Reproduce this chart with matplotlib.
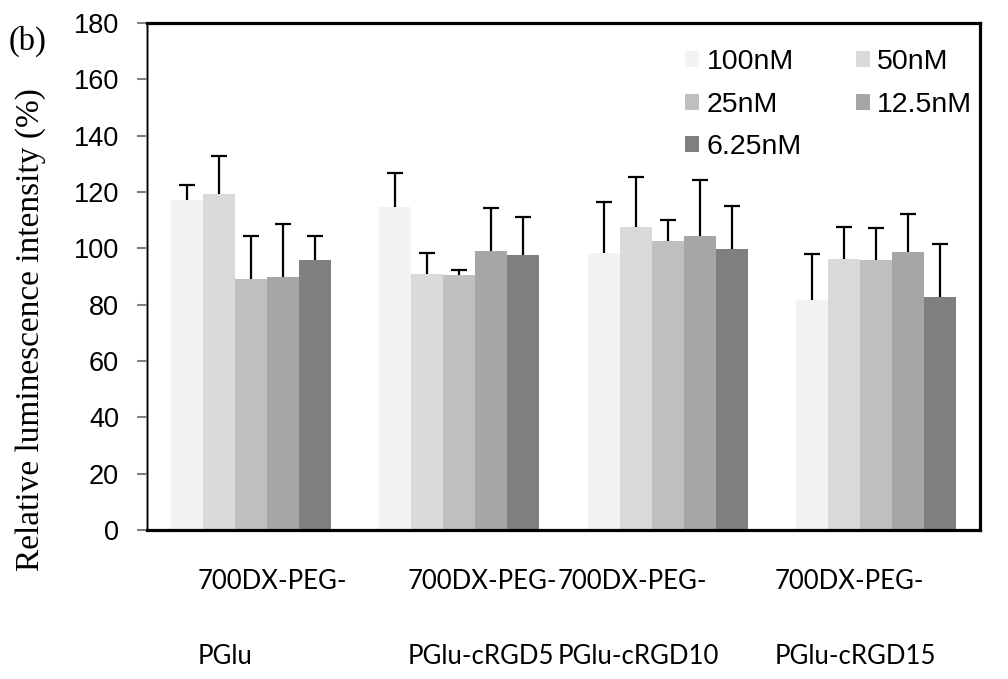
import matplotlib
matplotlib.use("Agg")
import matplotlib.pyplot as plt
import numpy as np

# Data
groups_line1 = ["700DX-PEG-", "700DX-PEG-", "700DX-PEG-", "700DX-PEG-"]
groups_line2 = ["PGlu", "PGlu-cRGD5", "PGlu-cRGD10", "PGlu-cRGD15"]
concentrations = ["100nM", "50nM", "25nM", "12.5nM", "6.25nM"]

c100 = [117.1, 114.6, 98.3, 81.8]
c50 = [119.2, 90.8, 107.4, 96.1]
c25 = [89.0, 90.6, 102.6, 95.7]
c12_5 = [90.0, 99.2, 104.4, 98.6]
c6_25 = [95.7, 97.7, 99.6, 82.6]

sd100 = [5.4, 12.0, 18.1, 16.1]
sd50 = [13.5, 7.7, 18.0, 11.6]
sd25 = [15.5, 1.7, 7.6, 11.4]
sd12_5 = [18.6, 15.1, 20.0, 13.6]
sd6_25 = [8.7, 13.4, 15.3, 18.9]

y_ticks = [0, 20, 40, 60, 80, 100, 120, 140, 160, 180]

means = [c100, c50, c25, c12_5, c6_25]
sds = [sd100, sd50, sd25, sd12_5, sd6_25]
colors = ["#f2f2f2", "#d9d9d9", "#bfbfbf", "#a6a6a6", "#7f7f7f"]

plt.rcParams["font.family"] = ["Liberation Sans", "DejaVu Sans"]

W, H = 1008, 679
fig = plt.figure(figsize=(W / 100, H / 100), dpi=100)
ax = fig.add_axes([147 / W, 1 - 530 / H, (980 - 147) / W, (530 - 23) / H])

x = np.arange(len(groups_line2))
bw = 0.1538
handles = []
for j, (m, s, c) in enumerate(zip(means, sds, colors)):
    pos = x + (j - 2) * bw
    b = ax.bar(pos, m, width=bw, color=c, edgecolor="none", zorder=2,
               label=concentrations[j])
    # upper error bars only
    eb = ax.errorbar(pos, m, yerr=[np.zeros(len(s)), s], fmt="none",
                     ecolor="black", elinewidth=1.6, capsize=6, capthick=1.6,
                     zorder=3)
    eb[1][0].set_visible(False)
    handles.append(b)

ax.set_xlim(-0.5, 3.5)
ax.set_ylim(0, 180)
ax.set_yticks(y_ticks)
ax.set_yticklabels([str(t) for t in y_ticks], fontsize=19.5,
                   family="Liberation Sans")
ax.set_xticks([])

for side in ["top", "right", "bottom"]:
    ax.spines[side].set_color("black")
    ax.spines[side].set_linewidth(2.3)
ax.spines["left"].set_color("#808080")
ax.spines["left"].set_linewidth(2.0)
ax.axvline(-0.5, color="black", lw=0.8, zorder=4)

ax.tick_params(axis="y", direction="out", length=7, width=1.5,
               color="#808080", pad=13)

# Legend filled row by row (two columns)
order = [0, 2, 4, 1, 3]
leg = ax.legend([handles[i] for i in order], [concentrations[i] for i in order],
                ncol=2, frameon=False, loc="upper left",
                bbox_to_anchor=(0.646, 0.948), borderpad=0, borderaxespad=0,
                handlelength=0.5, handleheight=0.5, handletextpad=0.25,
                columnspacing=1.9, labelspacing=0.58,
                prop={"family": "Liberation Sans", "size": 20.5})

# Category labels in two lines
label_x = [198, 408, 558, 775]
for lx, l1, l2 in zip(label_x, groups_line1, groups_line2):
    fig.text(lx / W, 1 - 589 / H, l1, ha="left", va="baseline",
             family="Lato", fontsize=18.5)
    fig.text(lx / W, 1 - 664 / H, l2, ha="left", va="baseline",
             family="Lato", fontsize=18.5)

fig.text(31 / W, 1 - 330 / H, "Relative luminescence intensity (%)",
         rotation=90, ha="center", va="center", family="Liberation Serif",
         fontsize=24)
fig.text(28 / W, 1 - 41 / H, "(b)", ha="center", va="center",
         family="Liberation Serif", fontsize=23.5)

fig.savefig("out.png", dpi=100)
